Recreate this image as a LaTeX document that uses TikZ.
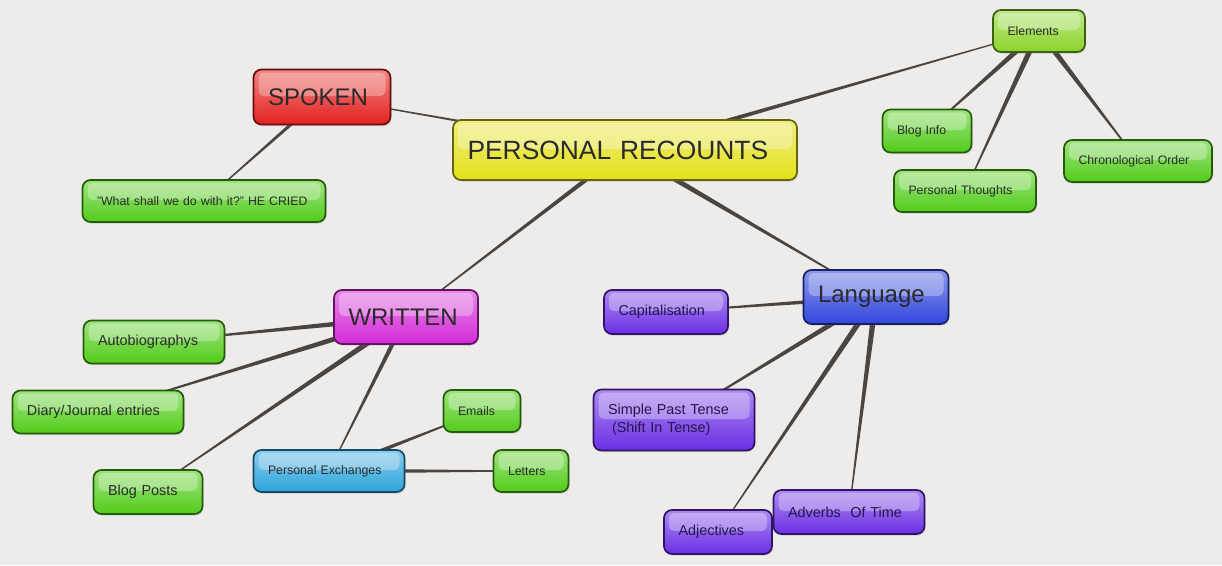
\documentclass[tikz,border=0pt]{standalone}
\usepackage{fontspec}
\setmainfont{Liberation Sans}
\usepackage{tikz}
\usetikzlibrary{shadows, backgrounds, calc}
\definecolor{bgcol}{HTML}{EDECEA}
\definecolor{linkcol}{HTML}{4B4541}
\definecolor{textcol}{HTML}{2A2A2A}
\definecolor{yellowc}{HTML}{E3E01A}
\definecolor{redc}{HTML}{E42220}
\definecolor{greenc}{HTML}{52CC1A}
\definecolor{limec}{HTML}{8AD42A}
\definecolor{magc}{HTML}{D42AD6}
\definecolor{cyanc}{HTML}{2CA4DC}
\definecolor{bluec}{HTML}{3246DC}
\definecolor{purplec}{HTML}{6A2EE4}
\definecolor{purpletext}{HTML}{24164A}
% tapered branch: thick at the parent, thin at the child
\newcommand{\branch}[3][2.5pt]{%
  \fill[linkcol] ($(#2)!#1!90:(#3)$) -- ($(#3)!0.4pt!-90:(#2)$)
    -- ($(#3)!0.4pt!90:(#2)$) -- ($(#2)!#1!-90:(#3)$) -- cycle;}

\begin{document}
\begin{tikzpicture}[
  x=1pt, y=-1pt,
  mapbox/.style={rectangle, rounded corners=8pt, draw=#1!45!black, line width=1.7pt,
    top color=#1!55!white, bottom color=#1,
    drop shadow={shadow xshift=1pt, shadow yshift=-1.5pt, opacity=0.3},
    inner xsep=14.5pt, inner ysep=0pt, align=left, text=textcol,
    path picture={\fill[white, opacity=0.3, rounded corners=5pt]
      ([xshift=5pt,yshift=-3pt]path picture bounding box.north west) rectangle
      ([xshift=-5pt,yshift=1pt]path picture bounding box.east);}},
  bigtext/.style={font=\fontsize{24}{28}\selectfont},
  midtext/.style={font=\fontsize{14.4}{18}\selectfont},
  smalltext/.style={font=\fontsize{12.3}{15}\selectfont}
]
  \useasboundingbox (0,0) rectangle (1222,565);

  % centre
  \node[mapbox=yellowc, font=\fontsize{26.4}{30}\selectfont, text width=315pt, minimum height=60pt] (main) at (625,150) {PERSONAL RECOUNTS};

  % spoken
  \node[mapbox=redc, bigtext, text width=108pt, minimum height=55pt] (spoken) at (322,97) {SPOKEN};
  \node[mapbox=greenc, smalltext, text width=214pt, minimum height=42pt] (quote) at (204,201) {"What shall we do with it?" HE CRIED};

  % elements
  \node[mapbox=limec, smalltext, text width=63pt, minimum height=42pt] (elements) at (1039,31) {Elements};
  \node[mapbox=greenc, smalltext, text width=60pt, minimum height=43pt] (bloginfo) at (927,131) {Blog Info};
  \node[mapbox=greenc, smalltext, text width=113pt, minimum height=42pt] (thoughts) at (965,191) {Personal Thoughts};
  \node[mapbox=greenc, smalltext, text width=119pt, minimum height=42pt] (chrono) at (1138,161) {Chronological Order};

  % written
  \node[mapbox=magc, bigtext, text width=115pt, minimum height=54pt] (written) at (406,317) {WRITTEN};
  \node[mapbox=greenc, midtext, text width=112pt, minimum height=43pt] (autobio) at (154,342) {Autobiographys};
  \node[mapbox=greenc, midtext, text width=142pt, minimum height=43pt] (diary) at (98,412) {Diary/Journal entries};
  \node[mapbox=greenc, midtext, text width=80pt, minimum height=44pt] (blogposts) at (148,492) {Blog Posts};
  \node[mapbox=cyanc, smalltext, text width=122pt, minimum height=42pt] (exchanges) at (329,471) {Personal Exchanges};
  \node[mapbox=greenc, smalltext, text width=48pt, minimum height=42pt] (emails) at (482,411) {Emails};
  \node[mapbox=greenc, smalltext, text width=46pt, minimum height=42pt] (letters) at (531,471) {Letters};

  % language
  \node[mapbox=bluec, bigtext, text width=116pt, minimum height=54pt] (language) at (876,297) {Language};
  \node[mapbox=purplec, midtext, text=purpletext, text width=95pt, minimum height=44pt] (capital) at (666,312) {Capitalisation};
  \node[mapbox=purplec, midtext, text=purpletext, text width=132pt, minimum height=61pt] (pasttense) at (674,420) {Simple Past Tense\\\hspace*{4pt}(Shift In Tense)};
  \node[mapbox=purplec, midtext, text=purpletext, text width=79pt, minimum height=44pt] (adjectives) at (718,532) {Adjectives};
  \node[mapbox=purplec, midtext, text=purpletext, text width=122pt, minimum height=44pt] (adverbs) at (849,512) {Adverbs\ \ Of Time};

  \begin{scope}[on background layer]
    \fill[bgcol] (0,0) rectangle (1222,565);
    \branch[1.8pt]{main}{spoken}
    \branch[2pt]{spoken}{quote}
    \branch{main}{elements}
    \branch[3pt]{elements}{bloginfo}
    \branch[3pt]{elements}{thoughts}
    \branch[3pt]{elements}{chrono}
    \branch{main}{written}
    \branch[3pt]{main}{language}
    \branch[3pt]{written}{autobio}
    \branch[3pt]{written}{diary}
    \branch[3pt]{written}{blogposts}
    \branch{written}{exchanges}
    \branch{exchanges}{emails}
    \branch{exchanges}{letters}
    \branch{language}{capital}
    \branch[3pt]{language}{pasttense}
    \branch[3pt]{language}{adjectives}
    \branch[3pt]{language}{adverbs}
  \end{scope}
\end{tikzpicture}
\end{document}
